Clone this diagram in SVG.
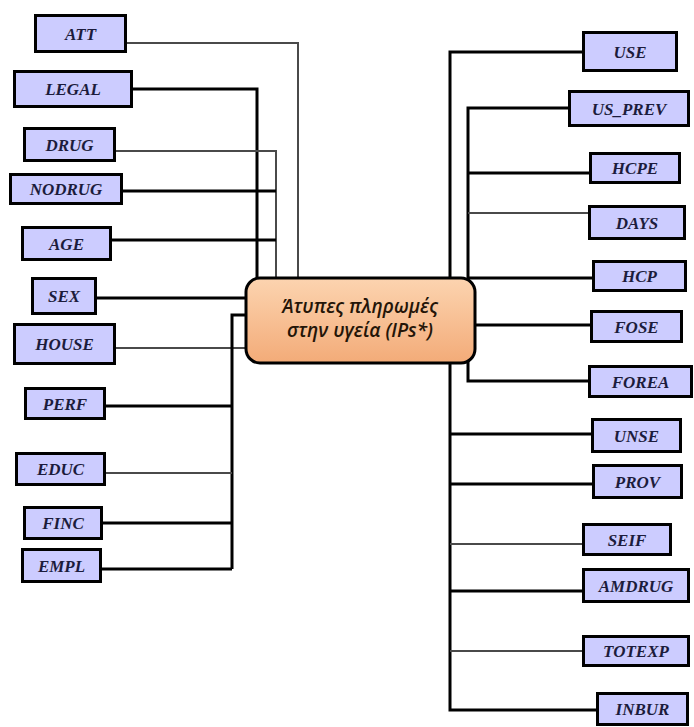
<svg xmlns="http://www.w3.org/2000/svg" width="694" height="727" viewBox="0 0 694 727">
  <style>
    .box { fill: #ccccff; stroke: #000; stroke-width: 3; }
    .lbl { font-family: "Liberation Serif", "DejaVu Serif", "Times New Roman", serif; font-weight: bold; font-style: italic; font-size: 17px; fill: #1c1c3c; text-anchor: middle; }
    .wire { fill: none; stroke: #000; stroke-width: 3; }
    .thin { fill: none; stroke: #4a4a4a; stroke-width: 2; }
    .hub-text { font-family: "Open Sans", "Noto Sans", sans-serif; font-style: italic; font-weight: 600; font-size: 19px; fill: #241508; text-anchor: middle; }
  </style>
  <defs>
    <linearGradient id="peach" x1="0" y1="0" x2="0" y2="1">
      <stop offset="0" stop-color="#fcd4b0"/>
      <stop offset="1" stop-color="#f3ab78"/>
    </linearGradient>
  </defs>
  <rect width="694" height="727" fill="#fff"/>

  <g id="connectors">
    <!-- left side -->
    <path class="thin" d="M127,43 H298 V278"/>
    <path class="wire" d="M133,89 H257 V278"/>
    <path class="thin" d="M116,151 H276 V278"/>
    <path class="wire" d="M123,191 H276"/>
    <path class="wire" d="M112,240 H276"/>
    <path class="wire" d="M97,298 H246"/>
    <path class="thin" d="M116,348 H246"/>
    <path class="wire" d="M246,315 H232 V569"/>
    <path class="wire" d="M106,406 H232"/>
    <path class="thin" d="M106,473 H232"/>
    <path class="wire" d="M103,523 H232"/>
    <path class="wire" d="M102,569 H232"/>
    <!-- right side -->
    <path class="wire" d="M582,52 H450 V710 H596"/>
    <path class="wire" d="M568,108 H468 V381 H588"/>
    <path class="wire" d="M468,173 H589"/>
    <path class="thin" d="M468,213 H588"/>
    <path class="wire" d="M468,278 H592"/>
    <path class="wire" d="M475,325 H590"/>
    <path class="wire" d="M450,434 H591"/>
    <path class="wire" d="M450,484 H592"/>
    <path class="thin" d="M450,544 H582"/>
    <path class="wire" d="M450,591 H582"/>
    <path class="thin" d="M450,651 H582"/>
  </g>

  <g id="hub">
    <rect x="246" y="278" width="229" height="85" rx="14" fill="url(#peach)" stroke="#000" stroke-width="3"/>
    <text class="hub-text" x="360" y="313">Άτυπες πληρωμές</text>
    <text class="hub-text" x="360" y="337">στην υγεία (IPs*)</text>
  </g>

  <g id="ATT"><rect class="box" x="35.5" y="15.5" width="90" height="36"/><text class="lbl" x="80.5" y="39.5">ATT</text></g>
  <g id="LEGAL"><rect class="box" x="14.5" y="71.5" width="117" height="35"/><text class="lbl" x="73" y="95">LEGAL</text></g>
  <g id="DRUG"><rect class="box" x="24.5" y="128.5" width="90" height="32"/><text class="lbl" x="69.5" y="150.5">DRUG</text></g>
  <g id="NODRUG"><rect class="box" x="10.5" y="174.5" width="111" height="29"/><text class="lbl" x="66" y="195">NODRUG</text></g>
  <g id="AGE"><rect class="box" x="22.5" y="227.5" width="88" height="32"/><text class="lbl" x="66.5" y="249.5">AGE</text></g>
  <g id="SEX"><rect class="box" x="32.5" y="278.5" width="63" height="35"/><text class="lbl" x="64" y="302">SEX</text></g>
  <g id="HOUSE"><rect class="box" x="14.5" y="324.5" width="100" height="39"/><text class="lbl" x="64.5" y="350">HOUSE</text></g>
  <g id="PERF"><rect class="box" x="25.5" y="388.5" width="79" height="30"/><text class="lbl" x="65" y="409.5">PERF</text></g>
  <g id="EDUC"><rect class="box" x="16.5" y="453.5" width="88" height="31"/><text class="lbl" x="60.5" y="475">EDUC</text></g>
  <g id="FINC"><rect class="box" x="24.5" y="507.5" width="77" height="31"/><text class="lbl" x="63" y="529">FINC</text></g>
  <g id="EMPL"><rect class="box" x="22.5" y="549.5" width="78" height="32"/><text class="lbl" x="61.5" y="571.5">EMPL</text></g>

  <g id="USE"><rect class="box" x="583.5" y="32.5" width="93" height="38"/><text class="lbl" x="630" y="57.5">USE</text></g>
  <g id="US_PREV"><rect class="box" x="569.5" y="91.5" width="119" height="34"/><text class="lbl" x="629" y="114.5">US_PREV</text></g>
  <g id="HCPE"><rect class="box" x="590.5" y="153.5" width="89" height="29"/><text class="lbl" x="635" y="174">HCPE</text></g>
  <g id="DAYS"><rect class="box" x="589.5" y="206.5" width="95" height="32"/><text class="lbl" x="637" y="228.5">DAYS</text></g>
  <g id="HCP"><rect class="box" x="593.5" y="261.5" width="92" height="29"/><text class="lbl" x="639.5" y="282">HCP</text></g>
  <g id="FOSE"><rect class="box" x="591.5" y="311.5" width="90" height="30"/><text class="lbl" x="636.5" y="332.5">FOSE</text></g>
  <g id="FOREA"><rect class="box" x="589.5" y="366.5" width="102" height="30"/><text class="lbl" x="640.5" y="387.5">FOREA</text></g>
  <g id="UNSE"><rect class="box" x="592.5" y="419.5" width="88" height="32"/><text class="lbl" x="636.5" y="441.5">UNSE</text></g>
  <g id="PROV"><rect class="box" x="593.5" y="465.5" width="88" height="32"/><text class="lbl" x="637.5" y="487.5">PROV</text></g>
  <g id="SEIF"><rect class="box" x="583.5" y="524.5" width="87" height="30"/><text class="lbl" x="627" y="545.5">SEIF</text></g>
  <g id="AMDRUG"><rect class="box" x="583.5" y="569.5" width="105" height="32"/><text class="lbl" x="636" y="591.5">AMDRUG</text></g>
  <g id="TOTEXP"><rect class="box" x="583.5" y="636.5" width="105" height="29"/><text class="lbl" x="636" y="657">TOTEXP</text></g>
  <g id="INBUR"><rect class="box" x="597.5" y="693.5" width="90" height="31"/><text class="lbl" x="642.5" y="715">INBUR</text></g>
</svg>
